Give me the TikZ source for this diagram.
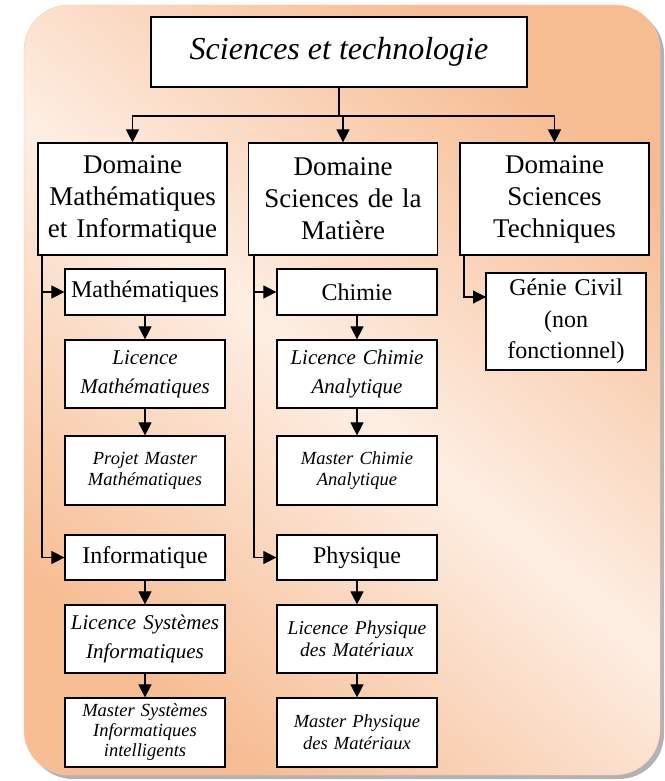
\documentclass[tikz,border=0pt]{standalone}
\usepackage{fontspec}
\setmainfont{Liberation Serif}
\usetikzlibrary{arrows.meta}
\definecolor{peach}{RGB}{246,188,146}
\definecolor{cream}{RGB}{253,238,227}

\begin{document}
\begin{tikzpicture}[x=1pt,y=-1pt]
\tikzset{box/.style = {shape=rectangle,draw,fill=white,line width=1.2pt,inner sep=0pt,align=center}}
\tikzset{dom/.style = {box,minimum width=189pt,minimum height=112pt,text width=185pt,font=\fontsize{27}{32}\selectfont}}
\tikzset{sub/.style = {box,minimum width=160pt,minimum height=46pt,text width=156pt,font=\fontsize{24}{31.5}\selectfont}}
\tikzset{lic/.style = {box,minimum width=160pt,minimum height=68pt,text width=156pt,font=\fontsize{21}{29}\selectfont\itshape}}
\tikzset{mas/.style = {box,minimum width=160pt,minimum height=69pt,text width=156pt,font=\fontsize{18.5}{21}\selectfont\itshape}}
\tikzset{edge/.style = {-{Triangle[length=13pt,width=13pt]},line width=1.1pt}}
\useasboundingbox (0,0) rectangle (664,781);

%background
\fill[black!30,rounded corners=45pt] (28,9) rectangle (664,779);
\shade[rounded corners=45pt,draw=peach!80,left color=peach,right color=peach,middle color=cream,shading angle=140] (24,5) rectangle (660,775);

\node[box,minimum width=376pt,minimum height=70pt,font=\fontsize{32}{38}\selectfont\itshape] (st) at (339,52) {Sciences et technologie};

\node[dom] (mi) at (132.5,199) {Domaine\\Mathématiques\\et Informatique};
\node[dom] (sm) at (343,199) {Domaine\\Sciences de la\\Matière};
\node[dom] (tech) at (554.5,199) {Domaine\\Sciences\\Techniques};

\node[sub] (math) at (145,292) {Mathématiques};
\node[lic] (licmath) at (145,374) {Licence\\Mathématiques};
\node[mas] (projmath) at (145,470.5) {Projet Master\\Mathématiques};
\node[sub,minimum height=45pt] (info) at (145,557.5) {Informatique};
\node[lic] (licsys) at (145,639) {Licence Systèmes\\Informatiques};
\node[mas,font=\fontsize{18.5}{20}\selectfont\itshape] (mastsys) at (145,732.5) {Master Systèmes\\Informatiques\\intelligents};

\node[sub] (chim) at (357,292) {Chimie};
\node[lic] (licchim) at (357,374) {Licence Chimie\\Analytique};
\node[mas] (mastchim) at (357,470.5) {Master Chimie\\Analytique};
\node[sub,minimum height=45pt] (phys) at (357,557.5) {Physique};
\node[lic,font=\fontsize{19.5}{22}\selectfont\itshape] (licphys) at (357,639) {Licence Physique\\des Matériaux};
\node[mas,font=\fontsize{18.5}{22}\selectfont\itshape] (mastphys) at (357,732.5) {Master Physique\\des Matériaux};

\node[sub,minimum height=97pt] (gc) at (566,321.5) {Génie Civil\\(non\\fonctionnel)};

\coordinate (bar) at (339,116);
\coordinate (t1) at (42,255);
\coordinate (t2) at (254,255);
\coordinate (t3) at (464,255);
\coordinate (gcin) at (486,297);

%edges
\draw[line width=1.1pt] (st.south) -- (bar);
\draw[edge] (bar) -| (mi.north);
\draw[edge] (bar) -| (sm.north);
\draw[edge] (bar) -| (tech.north);
\draw[edge] (t1) |- (math.west);
\draw[edge] (t1) |- (info.west);
\draw[edge] (t2) |- (chim.west);
\draw[edge] (t2) |- (phys.west);
\draw[edge] (t3) |- (gcin);
\draw[edge] (math) -- (licmath);
\draw[edge] (licmath) -- (projmath);
\draw[edge] (info) -- (licsys);
\draw[edge] (licsys) -- (mastsys);
\draw[edge] (chim) -- (licchim);
\draw[edge] (licchim) -- (mastchim);
\draw[edge] (phys) -- (licphys);
\draw[edge] (licphys) -- (mastphys);
\end{tikzpicture}
\end{document}
